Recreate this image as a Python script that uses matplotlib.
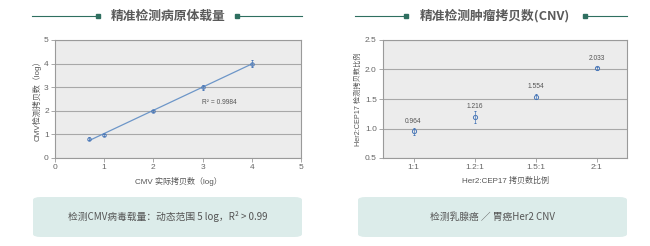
import matplotlib
matplotlib.use("Agg")
import matplotlib.pyplot as plt
from matplotlib.patches import FancyBboxPatch
import numpy as np

plt.rcParams['font.family'] = ['Noto Sans CJK SC', 'DejaVu Sans']

# Left chart data
cmv_actual = [0.7, 1, 2, 3, 4]
cmv_measured = [0.82, 0.97, 2.0, 3.0, 4.0]
cmv_err = [0.05, 0.05, 0.03, 0.1, 0.15]
r2_text = "R² = 0.9984"

# Right chart data
ratio_labels = ["1:1", "1.2:1", "1.5:1", "2:1"]
ratio_values = [0.964, 1.216, 1.554, 2.033]
ratio_points = [0.95, 1.20, 1.54, 2.02]
ratio_err = [0.06, 0.1, 0.04, 0.03]

W, H = 650, 246
fig = plt.figure(figsize=(6.5, 2.46), dpi=100)
fig.patch.set_facecolor("white")

def fx(px): return px / W
def fy(py): return 1 - py / H

bg = "#ececec"
grid_c = "#a8a8a8"
spine_c = "#9a9a9a"
pt_c = "#4a78b8"
tick_fs = 6
lab_fs = 5.8
sans = ['Liberation Sans', 'Noto Sans CJK SC', 'DejaVu Sans']

def style_ax(ax):
    ax.set_facecolor(bg)
    for s in ax.spines.values():
        s.set_color(spine_c)
        s.set_linewidth(0.8)
    ax.tick_params(axis='both', labelsize=tick_fs, colors=spine_c, labelcolor="#666666",
                   length=3, width=0.6, direction='out', pad=1.5)
    for lab in ax.get_xticklabels() + ax.get_yticklabels():
        lab.set_family(sans)
    ax.yaxis.grid(True, color=grid_c, linewidth=0.8)
    ax.set_axisbelow(True)

# Left axes
ax1 = fig.add_axes([fx(55), fy(158), fx(301 - 55), (158 - 40) / H])
ax1.set_xlim(0, 5)
ax1.set_ylim(0, 5)
ax1.set_xticks(range(6))
ax1.set_yticks(range(6))
style_ax(ax1)
coef = np.polyfit(cmv_actual, cmv_measured, 1)
xs = np.array([min(cmv_actual), max(cmv_actual)])
ax1.plot(xs, np.polyval(coef, xs), color="#6d96c8", lw=0.9)
ax1.errorbar(cmv_actual, cmv_measured, yerr=cmv_err, fmt='o', ms=2.5, mfc='none',
             mec=pt_c, mew=0.7, ecolor=pt_c, elinewidth=0.5, capsize=1)
ax1.text(3.35, 2.35, r2_text, fontsize=4.8, color="#555555", ha='center', va='center',
         family=sans)
ax1.set_xlabel("CMV 实际拷贝数（log）", fontsize=lab_fs, color="#555555", labelpad=4,
               family=sans)
ax1.set_ylabel("CMV检测拷贝数（log）", fontsize=lab_fs, color="#555555", labelpad=2,
               family=sans)

# Right axes
ax2 = fig.add_axes([fx(383), fy(158), fx(627 - 383), (158 - 40) / H])
xpos = np.arange(len(ratio_labels))
ax2.set_xlim(-0.5, 3.5)
ax2.set_ylim(0.5, 2.5)
ax2.set_yticks([0.5, 1.0, 1.5, 2.0, 2.5])
ax2.set_yticklabels(["0.5", "1.0", "1.5", "2.0", "2.5"])
ax2.set_xticks(xpos)
ax2.set_xticklabels(ratio_labels)
style_ax(ax2)
ax2.errorbar(xpos, ratio_points, yerr=ratio_err, fmt='o', ms=3, mfc='none',
             mec=pt_c, mew=0.7, ecolor=pt_c, elinewidth=0.5, capsize=1)
for x, v, p in zip(xpos, ratio_values, ratio_points):
    ax2.text(x, p + 0.17, str(v), fontsize=4.8, color="#555555", ha='center', va='center',
             family=sans)
ax2.set_xlabel("Her2:CEP17 拷贝数比例", fontsize=lab_fs, color="#555555", labelpad=4,
               family=sans)
ax2.set_ylabel("Her2:CEP17 检测拷贝数比例", fontsize=5.2, color="#555555", labelpad=2,
               family=sans)

# Titles with decorative lines
line_c = "#2f6f60"
def title(x0, x1, d0, d1, tx, txt):
    fig.add_artist(plt.Line2D([fx(x0), fx(d0)], [fy(16), fy(16)], color=line_c, lw=0.8))
    fig.add_artist(plt.Line2D([fx(d1), fx(x1)], [fy(16), fy(16)], color=line_c, lw=0.8))
    fig.add_artist(plt.Line2D([fx(d0)], [fy(16)], marker='s', ms=2.2, color=line_c, lw=0))
    fig.add_artist(plt.Line2D([fx(d1)], [fy(16)], marker='s', ms=2.2, color=line_c, lw=0))
    fig.text(fx(tx), fy(16), txt, fontsize=9.2, color="#5a5a5a", ha='center', va='center',
             fontweight='bold')

title(32, 302, 98, 237, 168, "精准检测病原体载量")
title(355, 627, 406, 585, 495, "精准检测肿瘤拷贝数(CNV)")

# Bottom boxes
box_c = "#dcecea"
def box(x0, x1, txt):
    p = FancyBboxPatch((fx(x0), fy(237)), fx(x1 - x0), (237 - 197) / H,
                       boxstyle="round,pad=0,rounding_size=0.012",
                       transform=fig.transFigure, facecolor=box_c, edgecolor='none')
    fig.add_artist(p)
    fig.text(fx((x0 + x1) / 2), fy(217), txt, fontsize=7, color="#555555",
             ha='center', va='center')

box(33, 302, "检测CMV病毒载量：动态范围 5 log，R² > 0.99")
box(358, 627, "检测乳腺癌 ／ 胃癌Her2 CNV")

fig.savefig("out.png", dpi=100, facecolor="white")
